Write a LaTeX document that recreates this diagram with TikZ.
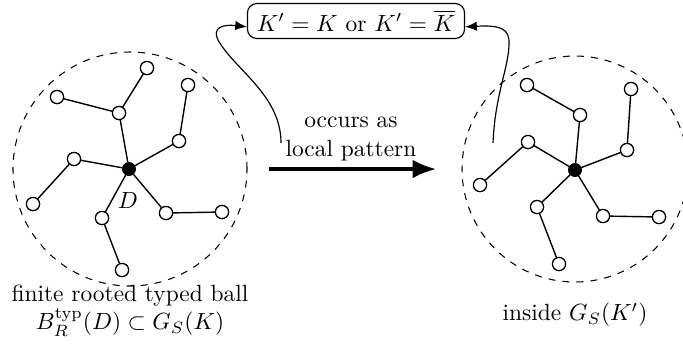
\documentclass[tikz,border=0pt]{standalone}
\usetikzlibrary{arrows.meta}
\begin{document}
\begin{tikzpicture}[x=0.427pt,y=-0.427pt,
  leaf/.style={circle,draw,fill=white,inner sep=0pt,minimum size=5.6pt,line width=0.5pt},
  root/.style={circle,fill=black,draw,inner sep=0pt,minimum size=5.4pt},
  edge/.style={line width=0.6pt},
  ball/.style={draw,dashed,line width=0.45pt},
  curvearrow/.style={-{Latex[length=5pt,width=4pt]},line width=0.5pt},
  lbl/.style={align=center,font=\normalsize}]
\useasboundingbox (0,0) rectangle (683,345);
% balls
\draw[ball] (130,169) circle[radius=117*0.427pt];
\draw[ball] (575,169) circle[radius=113*0.427pt];
% left tree
\node[root] (L) at (129,169) {};
\node[leaf] (La) at (119,113) {};
\node[leaf] (La1) at (147,68) {};
\node[leaf] (La2) at (57,97) {};
\node[leaf] (Lb) at (179,141) {};
\node[leaf] (Lb1) at (188,85) {};
\node[leaf] (Lc) at (74,159) {};
\node[leaf] (Lc1) at (33,204) {};
\node[leaf] (Ld) at (102,218) {};
\node[leaf] (Ld1) at (122,270) {};
\node[leaf] (Le) at (166,213) {};
\node[leaf] (Le1) at (222,212) {};
\begin{scope}[on background layer/.try]
\end{scope}
\draw[edge] (L) -- (La) (La) -- (La1) (La) -- (La2)
  (L) -- (Lb) (Lb) -- (Lb1)
  (L) -- (Lc) (Lc) -- (Lc1)
  (L) -- (Ld) (Ld) -- (Ld1)
  (L) -- (Le) (Le) -- (Le1);
\node (Dlbl) at (128,200) {$D$};
% right tree
\node[root] (R) at (575,170) {};
\node[leaf] (Ra) at (580,115) {};
\node[leaf] (Ra1) at (527,85) {};
\node[leaf] (Rb) at (627,150) {};
\node[leaf] (Rb1) at (631,89) {};
\node[leaf] (Rc) at (528,142) {};
\node[leaf] (Rc1) at (480,185) {};
\node[leaf] (Rd) at (537,207) {};
\node[leaf] (Rd1) at (559,264) {};
\node[leaf] (Re) at (603,216) {};
\node[leaf] (Re1) at (659,217) {};
\draw[edge] (R) -- (Ra) (Ra) -- (Ra1)
  (R) -- (Rb) (Rb) -- (Rb1)
  (R) -- (Rc) (Rc) -- (Rc1)
  (R) -- (Rd) (Rd) -- (Rd1)
  (R) -- (Re) (Re) -- (Re1);
% redraw leaves on top of edges
\foreach \n in {La,La1,La2,Lb,Lb1,Lc,Lc1,Ld,Ld1,Le,Le1,Ra,Ra1,Rb,Rb1,Rc,Rc1,Rd,Rd1,Re,Re1}
  \node[leaf] at (\n) {};
\node[root] at (L) {};
\node[root] at (R) {};
% box
\node[draw,rounded corners=4pt,line width=0.5pt,inner xsep=4pt,inner ysep=3pt,minimum height=12.8pt] (box) at (356,21) {$K'=K$ or $K'=\overline{K}$};
% main arrow
\coordinate (ma) at (269,169);
\coordinate (mb) at (436,169);
\draw[line width=1.4pt,-{Latex[length=10pt,width=8pt]}] (ma) -- (mb);
\node[lbl] (occ) at (351,139) {occurs as\\local pattern};
% curved arrows
\coordinate (ls) at (281,143);
\coordinate (rs) at (493,143);
\draw[curvearrow] (ls) .. controls (281,95) and (235,70) .. (218,40)
  .. controls (212,28) and (222,24) .. ([yshift=-2.5pt]box.west);
\draw[curvearrow] (rs) .. controls (495,95) and (508,70) .. (509,45)
  .. controls (510,28) and (500,25) .. ([yshift=-2.5pt]box.east);
% labels
\node[lbl] (lbot) at (130,311) {finite rooted typed ball\\$B_R^{\mathrm{typ}}(D)\subset G_S(K)$};
\node[lbl] (rbot) at (575,315) {inside $G_S(K')$};
\end{tikzpicture}
\end{document}
